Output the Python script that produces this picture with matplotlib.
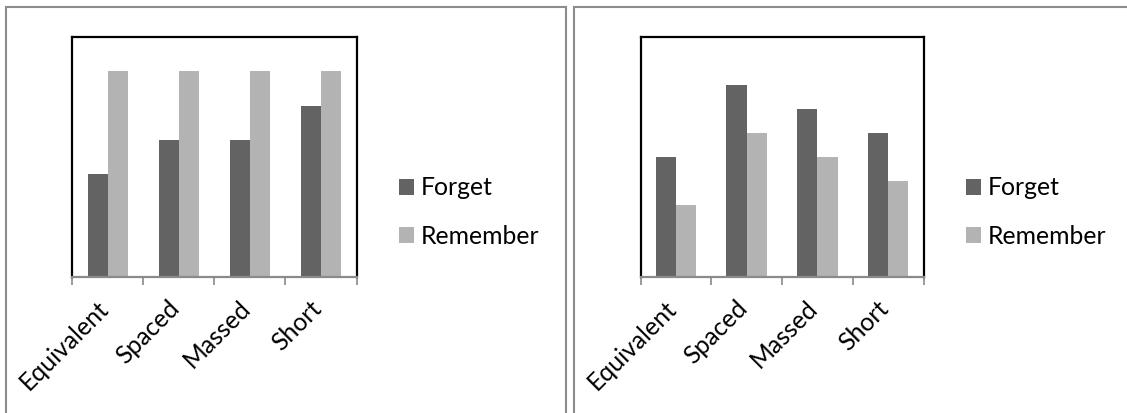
import matplotlib
matplotlib.use("Agg")
import matplotlib.pyplot as plt
from matplotlib.patches import Rectangle
from matplotlib.transforms import ScaledTranslation
import numpy as np

plt.rcParams["font.family"] = ["Lato", "DejaVu Sans"]

categories = ["Equivalent", "Spaced", "Massed", "Short"]
series_names = ["Forget", "Remember"]

# left chart
left_forget = [3, 4, 4, 5]
left_remember = [6, 6, 6, 6]
left_ymax = 7

# right chart
right_forget = [5, 8, 7, 6]
right_remember = [3, 6, 5, 4]
right_ymax = 10

FORGET_COLOR = "#636363"
REMEMBER_COLOR = "#b3b3b3"
FRAME_COLOR = "#8c8c8c"
AXIS_COLOR = "#8a8a8a"
FONT_SIZE = 17.8

W, H = 1127, 413
DPI = 100
fig = plt.figure(figsize=(W / DPI, H / DPI), dpi=DPI)
fig.patch.set_facecolor("white")


def fx(px):
    return px / W


def fy(py):
    return 1 - py / H


def add_frame(x0, y0, x1, y1):
    rect = Rectangle((fx(x0), fy(y1)), fx(x1) - fx(x0), fy(y0) - fy(y1),
                     transform=fig.transFigure, fill=False,
                     edgecolor=FRAME_COLOR, linewidth=1.5, clip_on=False)
    fig.add_artist(rect)


def draw_panel(ax_box, forget, remember, ymax, legend_x):
    left, top, right, bottom = ax_box
    ax = fig.add_axes([fx(left), fy(bottom), fx(right) - fx(left), fy(top) - fy(bottom)])
    x = np.arange(len(categories))
    w = 0.285
    b1 = ax.bar(x - w / 2, forget, width=w, color=FORGET_COLOR, label=series_names[0], zorder=2)
    b2 = ax.bar(x + w / 2, remember, width=w, color=REMEMBER_COLOR, label=series_names[1], zorder=2)
    ax.set_xlim(-0.5, len(categories) - 0.5)
    ax.set_ylim(0, ymax)
    ax.set_yticks([])
    for side in ("left", "top", "right"):
        ax.spines[side].set_color("black")
        ax.spines[side].set_linewidth(1.6)
    ax.spines["bottom"].set_color(AXIS_COLOR)
    ax.spines["bottom"].set_linewidth(1.6)
    ax.spines["bottom"].set_zorder(3)

    ax.set_xticks(x)
    ax.set_xticklabels(categories, rotation=45, ha="right", va="top", fontsize=FONT_SIZE)
    ax.set_xticks(np.arange(len(categories) + 1) - 0.5, minor=True)
    ax.tick_params(axis="x", which="major", length=0, pad=14)
    ax.tick_params(axis="x", which="minor", length=6, width=1.2, color=AXIS_COLOR)
    shift = ScaledTranslation(5 / DPI, 0, fig.dpi_scale_trans)
    for lbl in ax.get_xticklabels():
        lbl.set_transform(lbl.get_transform() + shift)

    ax.legend(handles=[b1, b2], loc="center left",
              bbox_to_anchor=(fx(legend_x), fy(212)), bbox_transform=fig.transFigure,
              frameon=False, fontsize=FONT_SIZE, handlelength=0.61, handleheight=0.61,
              handletextpad=0.25, labelspacing=1.02, borderpad=0, borderaxespad=0)
    return ax


add_frame(5.5, 6.5, 565.7, 430)
add_frame(573.7, 7, 1140, 430)

draw_panel((72.3, 37, 356.5, 277), left_forget, left_remember, left_ymax, 399)
draw_panel((640.5, 37, 923.5, 277), right_forget, right_remember, right_ymax, 966.4)

fig.savefig("out.png", dpi=DPI)
